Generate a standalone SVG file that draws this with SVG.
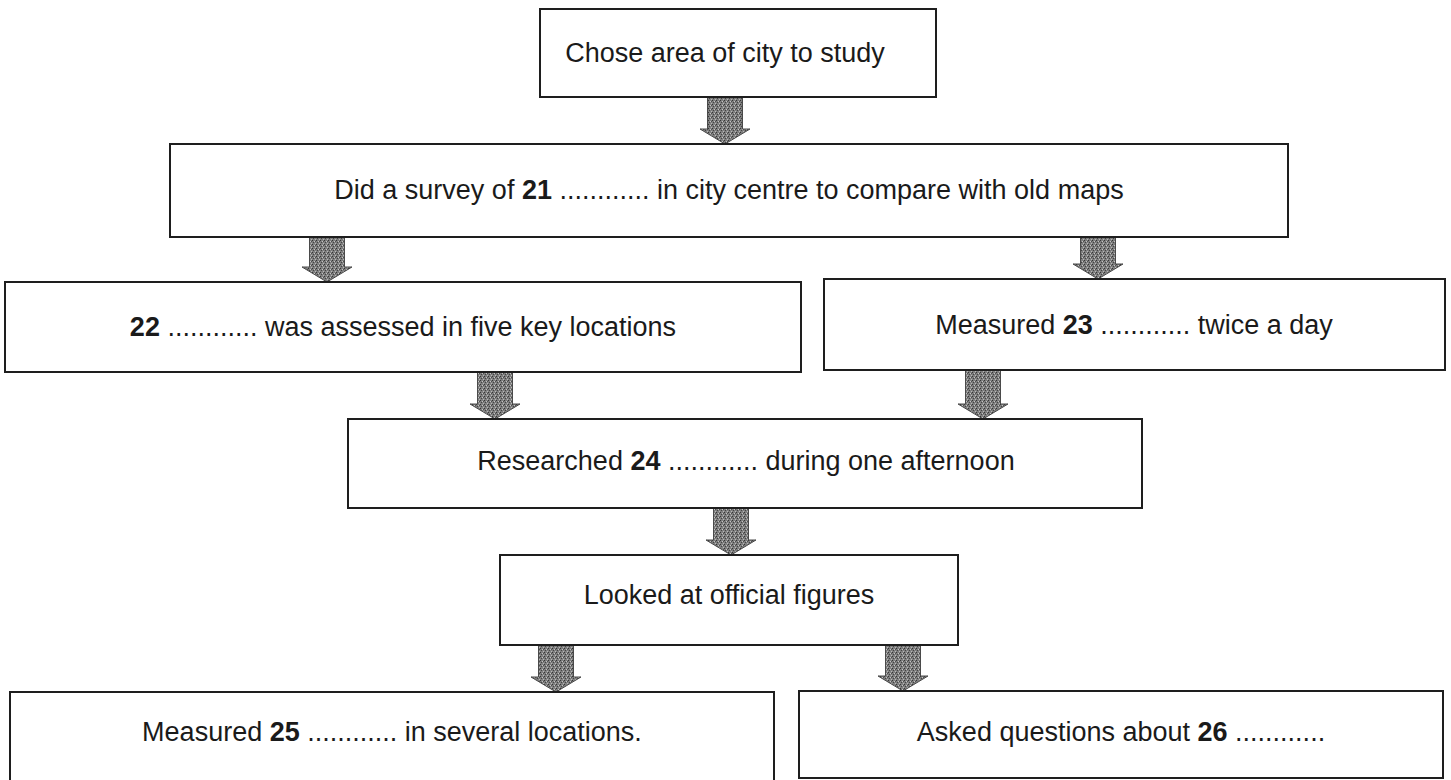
<svg xmlns="http://www.w3.org/2000/svg" width="1451" height="780" viewBox="0 0 1451 780">
  <style>
    .box { fill: #ffffff; stroke: #1e1e1e; stroke-width: 2; }
    .lbl { font-family: "Liberation Sans", Arial, sans-serif; font-size: 27px; fill: #1a1a1a; text-anchor: middle; }
    .num { font-weight: bold; }
    .arrow { fill: url(#stipple); stroke: #4a4a4a; stroke-width: 1; }
  </style>
  <defs>
    <pattern id="stipple" width="4" height="4" patternUnits="userSpaceOnUse">
      <rect width="4" height="4" fill="#7e7e7e"/>
      <rect x="0" y="0" width="1" height="1" fill="#363636"/>
      <rect x="2" y="1" width="1" height="1" fill="#c4c4c4"/>
      <rect x="1" y="2" width="1" height="1" fill="#444444"/>
      <rect x="3" y="3" width="1" height="1" fill="#b8b8b8"/>
      <rect x="3" y="1" width="1" height="1" fill="#505050"/>
    </pattern>
  </defs>
  <rect width="1451" height="780" fill="#ffffff"/>

  <g id="connectors">
    <path class="arrow" d="M707.5,97 H742.5 V129 H750 L725,144 L700,129 H707.5 Z"/>
    <path class="arrow" d="M309.5,237 H344.5 V267 H352 L327,282 L302,267 H309.5 Z"/>
    <path class="arrow" d="M1080.5,237 H1115.5 V264 H1123 L1098,279 L1073,264 H1080.5 Z"/>
    <path class="arrow" d="M477.5,372 H512.5 V404 H520 L495,419 L470,404 H477.5 Z"/>
    <path class="arrow" d="M965.5,370 H1000.5 V404 H1008 L983,419 L958,404 H965.5 Z"/>
    <path class="arrow" d="M713.5,508 H748.5 V540 H756 L731,555 L706,540 H713.5 Z"/>
    <path class="arrow" d="M538.5,645 H573.5 V677 H581 L556,692 L531,677 H538.5 Z"/>
    <path class="arrow" d="M885.5,645 H920.5 V676 H928 L903,691 L878,676 H885.5 Z"/>
  </g>

  <g id="n1">
    <rect class="box" x="540" y="9" width="396" height="88"/>
    <text class="lbl" x="725" y="62">Chose area of city to study</text>
  </g>
  <g id="n2">
    <rect class="box" x="170" y="144" width="1118" height="93"/>
    <text class="lbl" x="729" y="199">Did a survey of <tspan class="num">21</tspan> ............ in city centre to compare with old maps</text>
  </g>
  <g id="n3">
    <rect class="box" x="5" y="282" width="796" height="90"/>
    <text class="lbl" x="403" y="336"><tspan class="num">22</tspan> ............ was assessed in five key locations</text>
  </g>
  <g id="n4">
    <rect class="box" x="824" y="279" width="621" height="91"/>
    <text class="lbl" x="1134" y="334">Measured <tspan class="num">23</tspan> ............ twice a day</text>
  </g>
  <g id="n5">
    <rect class="box" x="348" y="419" width="794" height="89"/>
    <text class="lbl" x="746" y="470">Researched <tspan class="num">24</tspan> ............ during one afternoon</text>
  </g>
  <g id="n6">
    <rect class="box" x="500" y="555" width="458" height="90"/>
    <text class="lbl" x="729" y="604">Looked at official figures</text>
  </g>
  <g id="n7">
    <rect class="box" x="10" y="692" width="764" height="90"/>
    <text class="lbl" x="392" y="741">Measured <tspan class="num">25</tspan> ............ in several locations.</text>
  </g>
  <g id="n8">
    <rect class="box" x="799" y="691" width="644" height="87"/>
    <text class="lbl" x="1121" y="741">Asked questions about <tspan class="num">26</tspan> ............</text>
  </g>
</svg>
